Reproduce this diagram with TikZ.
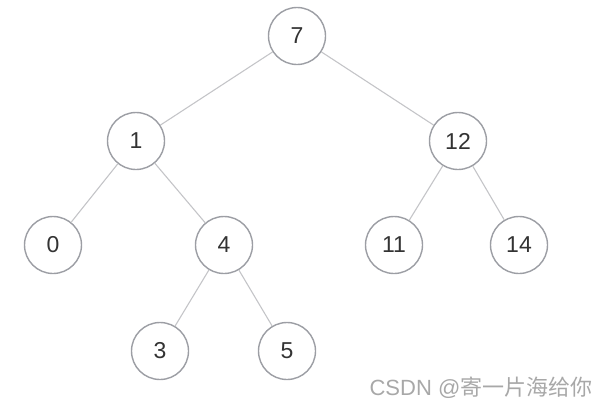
\documentclass[tikz,border=0pt]{standalone}
\usepackage{fontspec}
\setmainfont{Liberation Sans}
\newfontfamily\cjkfont{Noto Sans CJK SC}
\usepackage{xcolor}
\usetikzlibrary{positioning}
\definecolor{ringGray}{HTML}{9C9EA4}
\definecolor{edgeGray}{HTML}{C4C5C8}
\definecolor{digitInk}{HTML}{333333}
\definecolor{markGray}{HTML}{A8A8A8}

\begin{document}
\begin{tikzpicture}[
    x=1pt, y=-1pt,
    treenode/.style={
        draw=ringGray, circle, line width=1.4pt, fill=white,
        minimum size=57pt, inner sep=0pt,
        font=\fontsize{23}{26}\selectfont, text=digitInk
    },
    treeedge/.style={draw=edgeGray, line width=1.1pt},
]
    \useasboundingbox (0,0) rectangle (613,413);
    % nodes, level by level
    \node[treenode] (n7)  at (297,36)  {7};
    \node[treenode] (n1)  at (136,141) {1};
    \node[treenode] (n12) at (458,141) {12};
    \node[treenode] (n0)  at (53,245)  {0};
    \node[treenode] (n4)  at (224,245) {4};
    \node[treenode] (n11) at (394,245) {11};
    \node[treenode] (n14) at (519,245) {14};
    \node[treenode] (n3)  at (160,351) {3};
    \node[treenode] (n5)  at (287,351) {5};
    % edges
    \draw[treeedge] (n7) -- (n1);
    \draw[treeedge] (n7) -- (n12);
    \draw[treeedge] (n1) -- (n0);
    \draw[treeedge] (n1) -- (n4);
    \draw[treeedge] (n12) -- (n11);
    \draw[treeedge] (n12) -- (n14);
    \draw[treeedge] (n4) -- (n3);
    \draw[treeedge] (n4) -- (n5);
    % watermark
    \node[font=\fontsize{22}{26}\selectfont, text=markGray, inner sep=0pt] (mark) at (481,388) {CSDN @{\cjkfont 寄一片海给你}};
\end{tikzpicture}
\end{document}
